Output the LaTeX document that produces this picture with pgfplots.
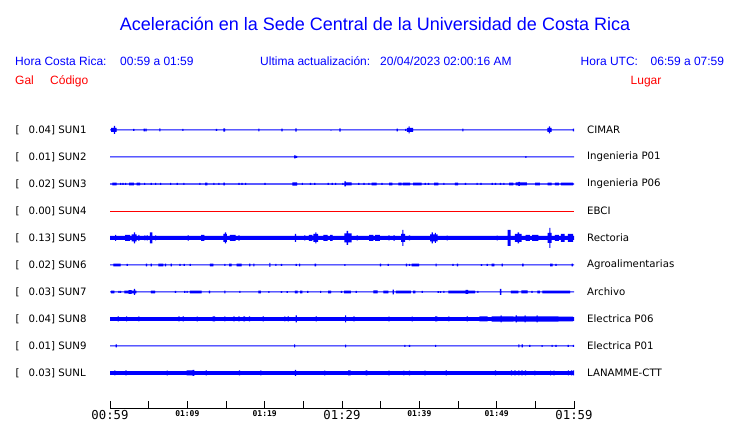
\documentclass[border=0pt]{standalone}
\usepackage{pgfplots}
\pgfplotsset{compat=1.18}
\usepackage{pgfplotstable}
\usepgfplotslibrary{fillbetween}
\usepackage{fontspec}
\setmainfont{Liberation Sans}
\newfontfamily\dejavu{DejaVu Sans}
\newfontfamily\dejamono{DejaVu Sans Mono}

% envelope of each trace: t in minutes after 00:59, a = half height in px
\pgfplotstableread{
t a
0 0.5
0.13 2
0.5 4
0.65 2
0.86 0.5
3.0 1.0
3.15 0.5
4.35 1.3
4.5 0.5
4.57 1.3
4.72 0.5
6.38 1.5
6.53 0.5
9.35 1.0
9.5 0.5
13.7 1.0
13.85 0.5
14.65 1.7
14.9 0.5
19.18 1.3
19.33 0.5
22.16 1.3
22.31 0.5
23.97 1.7
24.12 0.5
28.5 0.7
28.65 0.5
29.66 1.7
29.81 0.5
37.07 1.3
37.22 0.5
38.15 1.0
38.3 0.5
38.4 2
38.6 3.5
38.75 2
39.2 0.5
45.56 1.3
45.71 0.5
56.55 2
56.75 3.5
56.9 2
57.1 0.5
59.85 1.3
60 0.5
}\sunA
\pgfplotstableread{
t a
0 0.5
23.8 1.5
24.0 0.5
24.05 1.0
24.2 0.5
53.7 0.9
53.85 0.5
60 0.5
}\sunB
\pgfplotstableread{
t a
0 0.6
0.3 1.3
0.86 0.6
1.3 1.0
1.45 0.6
1.6 1.0
1.75 0.6
1.94 1.0
2.09 0.6
2.46 1.3
3.1 0.6
3.45 1.3
3.9 0.6
4.4 1.0
4.55 0.6
5.26 1.0
5.41 0.6
5.82 1.0
5.97 0.6
6.47 1.0
6.62 0.6
7.76 1.0
7.91 0.6
8.62 1.0
8.77 0.6
9.48 1.0
9.63 0.6
11.55 1.0
11.7 0.6
12.3 1.3
12.6 0.6
13.36 1.0
13.51 0.6
14.0 1.0
14.15 0.6
14.66 1.3
14.87 0.6
16.6 1.0
16.75 0.6
17.0 1.0
17.15 0.6
17.46 1.0
17.61 0.6
19.96 1.0
20.11 0.6
23.58 1.6
24.2 0.6
24.8 1.0
24.95 0.6
25.86 1.0
26.01 0.6
26.4 1.0
26.55 0.6
28.15 1.0
28.3 0.6
28.66 1.0
28.81 0.6
29.1 1.0
29.25 0.6
30.04 1.0
30.19 0.6
30.3 2.5
30.5 1.5
31.25 0.6
32.1 1.0
32.25 0.6
32.76 1.0
32.91 0.6
33.4 1.0
33.55 0.6
33.84 1.3
34.48 0.6
35.1 1.0
35.25 0.6
36.1 1.3
36.5 0.6
37.3 1.3
37.7 0.6
37.85 1.3
38.8 0.6
39.2 1.3
40.3 0.6
40.7 1.0
40.85 0.6
41.1 1.0
41.25 0.6
41.9 1.3
42.46 0.6
43.1 1.0
43.25 0.6
44.6 1.3
45.0 0.6
45.9 1.0
46.05 0.6
47.4 1.0
47.55 0.6
47.9 1.0
48.06 0.6
49.35 1.0
49.5 0.6
49.78 1.0
49.93 0.6
50.43 1.0
50.58 0.6
50.86 1.0
51.01 0.6
51.6 1.3
52.15 0.6
52.46 1.5
52.8 2.0
53.0 1.5
53.9 0.6
54.96 1.3
55.6 0.6
56.6 1.3
57.1 0.6
57.54 1.3
58.06 0.6
58.3 1.3
59.9 0.6
60 0.6
}\sunC
\pgfplotstableread{
t a
0 2.0
0.65 3.0
0.8 2.0
1.94 3.0
2.6 2.0
2.8 3.5
3.1 5.5
3.25 3.5
3.45 2.0
3.66 3.0
3.81 2.0
4.44 2.5
4.59 2.0
4.74 2.5
4.89 2.0
5.17 5.5
5.47 2.0
5.82 2.5
5.97 2.0
10.04 2.7
10.19 2.0
11.77 3.0
12.2 2.0
14.66 4.0
14.85 5.5
15.0 4.0
15.1 2.0
15.5 3.0
16.25 2.0
16.6 2.7
16.75 2.0
23.92 4.0
24.07 2.0
25.1 2.5
25.25 2.0
25.73 3.0
26.16 2.0
26.3 4.0
26.55 5.5
26.7 4.0
26.9 2.0
27.6 3.0
28.15 2.0
28.45 3.0
28.8 2.0
30.3 4.5
30.6 7.0
30.8 4.5
31.25 2.0
31.9 2.5
32.05 2.0
33.5 3.0
34.05 2.0
34.27 3.0
34.9 2.0
36.0 2.5
36.15 2.0
36.64 2.7
36.85 2.0
37.63 4.0
37.8 8.0
37.95 4.0
38.15 2.0
38.66 2.5
38.81 2.0
41.38 3.5
41.6 5.5
41.75 3.5
42.0 5.0
42.15 3.5
42.37 2.0
43.53 2.3
43.68 2.0
50.0 2.3
50.15 2.0
51.42 8.0
51.8 2.0
52.37 4.0
52.7 5.5
52.9 4.0
53.23 2.0
53.75 3.0
54.3 2.0
54.6 3.0
55.4 2.0
56.6 5.0
56.8 10.0
56.95 5.0
57.1 2.0
57.54 3.0
58.06 2.0
58.3 4.0
58.8 2.0
59.2 4.0
59.9 2.0
60 2.0
}\sunE
\pgfplotstableread{
t a
0 0.5
0.43 1.3
1.38 0.5
2.15 1.0
2.3 0.5
4.65 1.3
4.8 0.5
5.25 1.3
5.4 0.5
6.25 1.3
6.9 0.5
7.1 1.3
7.25 0.5
7.84 1.3
7.99 0.5
8.97 1.0
9.12 0.5
9.53 1.0
9.68 0.5
10.3 1.0
10.45 0.5
12.93 1.3
13.36 0.5
14.78 1.0
14.93 0.5
15.4 1.3
15.73 0.5
16.38 1.3
17.03 0.5
18.0 1.3
18.15 0.5
18.53 1.3
18.68 0.5
20.6 2.0
20.75 0.5
21.38 1.0
21.53 0.5
22.1 1.0
22.25 0.5
24.0 1.0
24.15 0.5
24.44 1.3
24.6 0.5
26.47 1.3
26.65 0.5
30.3 0.8
30.45 0.5
34.9 1.3
35.05 0.5
35.9 1.0
36.05 0.5
38.27 1.3
38.42 0.5
38.66 1.0
38.81 0.5
39.0 1.3
39.96 0.5
42.1 1.3
42.25 0.5
44.27 1.0
44.42 0.5
44.87 1.3
45.02 0.5
47.97 0.8
48.12 0.5
48.7 1.0
48.85 0.5
49.35 1.3
49.7 0.5
50.65 1.3
50.8 0.5
53.3 1.3
53.5 0.5
56.9 1.3
57.24 0.5
57.6 1.0
57.75 0.5
59.7 1.3
59.85 0.5
60 0.5
}\sunF
\pgfplotstableread{
t a
0 0.5
0.13 1.3
0.56 0.5
1.08 1.0
1.23 0.5
1.3 1.0
1.45 0.5
1.85 1.3
2.4 1.8
2.8 1.3
3.1 3.0
3.25 1.3
3.4 0.5
5.3 1.3
5.82 0.5
8.4 1.0
8.55 0.5
9.6 1.0
9.75 0.5
9.9 1.0
10.05 0.5
10.34 1.3
11.85 0.5
12.8 1.3
12.95 0.5
14.78 1.3
14.93 0.5
16.72 1.0
16.87 0.5
19.2 1.3
19.5 0.5
20.47 0.8
20.62 0.5
22.1 0.8
22.25 0.5
22.84 0.8
22.99 0.5
23.9 1.3
24.27 0.5
24.57 1.3
24.87 0.5
25.5 1.0
25.65 0.5
27.16 1.0
27.31 0.5
28.2 1.3
28.6 0.5
29.87 1.0
30.02 0.5
30.26 1.3
31.16 0.5
31.77 1.0
31.92 0.5
34.05 1.5
34.6 0.5
35.34 1.3
36.0 0.5
36.55 2.3
36.7 0.5
36.98 1.3
38.9 0.5
39.2 1.3
39.5 0.5
40.3 1.0
40.45 0.5
42.37 0.8
42.52 0.5
42.67 0.8
42.82 0.5
43.1 1.0
43.25 0.5
43.75 1.3
46.0 2.0
46.3 1.3
47.2 0.5
47.5 1.0
47.65 0.5
50.43 3.0
50.6 0.5
51.85 1.3
52.8 0.5
53.2 1.5
54.0 0.5
54.5 1.0
54.65 0.5
55.26 1.3
55.6 0.5
55.9 1.3
59.5 0.5
60 0.5
}\sunG
\pgfplotstableread{
t a
0 1.8
1.0 2.5
1.15 1.8
2.07 2.5
2.22 1.8
3.66 2.5
3.81 1.8
8.84 2.5
8.99 1.8
9.4 2.5
9.55 1.8
11.2 2.3
11.35 1.8
13.28 2.5
13.58 1.8
14.78 2.5
14.93 1.8
15.95 2.5
16.1 1.8
16.6 2.5
16.75 1.8
17.24 2.5
17.46 1.8
17.97 2.5
18.12 1.8
19.74 2.5
19.89 1.8
22.54 2.5
22.69 1.8
22.97 2.5
23.12 1.8
24.0 3.5
24.15 1.8
26.6 2.5
26.75 1.8
30.39 3.5
30.54 1.8
31.47 2.5
31.62 1.8
36.0 2.3
36.15 1.8
39.0 2.3
39.15 1.8
42.03 2.5
42.33 1.8
43.75 2.5
43.9 1.8
46.12 2.5
46.27 1.8
47.76 2.5
48.84 1.8
49.35 2.6
50.5 3.5
50.65 2.6
52.15 2.3
52.46 3.5
52.6 2.6
53.6 3.5
53.75 2.6
55.17 3.5
55.3 2.6
57.97 2.3
59.9 1.8
60 1.8
}\sunH
\pgfplotstableread{
t a
0 0.5
0.73 1.5
0.88 0.5
23.8 1.5
23.95 0.5
30.39 1.3
30.54 0.5
38.06 1.0
38.21 0.5
38.66 1.0
38.81 0.5
42.03 1.0
42.18 0.5
52.8 1.5
52.95 0.5
53.23 1.5
53.38 0.5
54.2 1.0
54.35 0.5
55.8 0.8
55.95 0.5
57.1 1.0
57.25 0.5
57.6 1.0
57.75 0.5
59.18 1.0
59.33 0.5
59.85 1.0
60 0.5
}\sunI
\pgfplotstableread{
t a
0 1.8
0.56 2.5
0.71 1.8
2.0 2.5
2.15 1.8
7.33 2.3
7.48 1.8
9.9 2.5
10.7 3.0
10.9 1.8
12.37 2.5
12.52 1.8
16.68 2.5
16.83 1.8
19.44 2.5
19.59 1.8
23.92 3.0
24.07 1.8
27.7 2.3
27.85 1.8
30.8 2.5
31.1 1.8
33.06 2.5
33.28 1.8
36.0 2.3
36.15 1.8
37.93 2.3
38.08 1.8
38.66 2.3
38.81 1.8
40.65 2.3
40.8 1.8
43.4 2.5
43.55 1.8
49.78 2.5
49.93 1.8
51.85 2.5
52.0 1.8
52.3 2.5
52.45 1.8
52.8 2.5
52.95 1.8
53.2 2.5
53.35 1.8
53.66 2.5
53.81 1.8
54.87 2.3
55.02 1.8
56.9 2.3
57.05 1.8
57.33 2.3
57.48 1.8
59.2 2.5
59.35 1.8
59.6 2.5
59.75 1.8
59.85 2.5
60 1.8
}\sunL

\newcommand{\trace}[3]{%
  \addplot[const plot, draw=none, name path=#3u] table[x=t, y expr=#2+\thisrow{a}] {#1};
  \addplot[const plot, draw=none, name path=#3l] table[x=t, y expr=#2-\thisrow{a}] {#1};
  \addplot[fill=blue, draw=none] fill between[of=#3u and #3l];
}

\begin{document}
\begin{tikzpicture}
\begin{axis}[
  at={(110pt,14pt)}, anchor=south west,
  scale only axis, width=464pt, height=299pt,
  xmin=0, xmax=60, ymin=0, ymax=299,
  axis x line*=bottom, axis y line*=left,
  y axis line style={draw=none},
  x axis line style={line width=1pt},
  xtick={0,5,...,60},
  xtick style={line width=1pt, black},
  ytick style={draw=none},
  tick align=inside, major tick length=8pt,
  xticklabel style={font=\dejamono, text=black, inner sep=1pt},
  xticklabels={
    {\fontsize{12.3}{14}\selectfont 00:59},{},
    {\fontsize{8}{9}\selectfont\bfseries 01:09},{},
    {\fontsize{8}{9}\selectfont\bfseries 01:19},{},
    {\fontsize{12.3}{14}\selectfont 01:29},{},
    {\fontsize{8}{9}\selectfont\bfseries 01:39},{},
    {\fontsize{8}{9}\selectfont\bfseries 01:49},{},
    {\fontsize{12.3}{14}\selectfont 01:59}},
  ytick={279,252,225,198,171,144,117,90,63,36},
  yticklabel style={anchor=west, xshift=-98pt, font=\dejavu\fontsize{10.2}{12}\selectfont},
  yticklabels={
    {\makebox[13pt][l]{[}0.04] SUN1},
    {\makebox[13pt][l]{[}0.01] SUN2},
    {\makebox[13pt][l]{[}0.02] SUN3},
    {\makebox[13pt][l]{[}0.00] SUN4},
    {\makebox[13pt][l]{[}0.13] SUN5},
    {\makebox[13pt][l]{[}0.02] SUN6},
    {\makebox[13pt][l]{[}0.03] SUN7},
    {\makebox[13pt][l]{[}0.04] SUN8},
    {\makebox[13pt][l]{[}0.01] SUN9},
    {\makebox[13pt][l]{[}0.03] SUNL}},
  clip=false,
]
\trace{\sunA}{279}{sa}
\trace{\sunB}{252}{sb}
\trace{\sunC}{225}{sc}
\addplot[red, line width=0.8pt] coordinates {(0,198) (60,198)};
\trace{\sunE}{171}{se}
\trace{\sunF}{144}{sf}
\trace{\sunG}{117}{sg}
\trace{\sunH}{90}{sh}
\trace{\sunI}{63}{si}
\trace{\sunL}{36}{sl}
\end{axis}

% titles and headers
\node[anchor=base, blue, font=\fontsize{18}{20}\selectfont] at (375pt,392pt)
  {Aceleración en la Sede Central de la Universidad de Costa Rica};
\begin{scope}[every node/.style={anchor=base west, inner sep=0pt, font=\fontsize{12}{14}\selectfont}]
\node[blue] at (15pt,357pt) {Hora Costa Rica:};
\node[blue] at (120pt,357pt) {00:59 a 01:59};
\node[blue] at (260pt,357pt) {Ultima actualización:};
\node[blue] at (380pt,357pt) {20/04/2023 02:00:16 AM};
\node[blue] at (580.5pt,357pt) {Hora UTC:};
\node[blue] at (650.5pt,357pt) {06:59 a 07:59};
\node[red] at (15pt,338pt) {Gal};
\node[red] at (50pt,338pt) {Código};
\node[red] at (630.5pt,338pt) {Lugar};
\end{scope}

% station places
\begin{scope}[every node/.style={anchor=west, inner sep=0pt, font=\dejavu\fontsize{10.2}{12}\selectfont}]
\node at (587pt,293pt) {CIMAR};
\node at (587pt,266pt) {Ingenieria P01};
\node at (587pt,239pt) {Ingenieria P06};
\node at (587pt,212pt) {EBCI};
\node at (587pt,185pt) {Rectoria};
\node at (587pt,158pt) {Agroalimentarias};
\node at (587pt,131pt) {Archivo};
\node at (587pt,104pt) {Electrica P06};
\node at (587pt,77pt) {Electrica P01};
\node at (587pt,50pt) {LANAMME-CTT};
\end{scope}
\path (0,0) rectangle (740pt,423pt);
\end{tikzpicture}
\end{document}
